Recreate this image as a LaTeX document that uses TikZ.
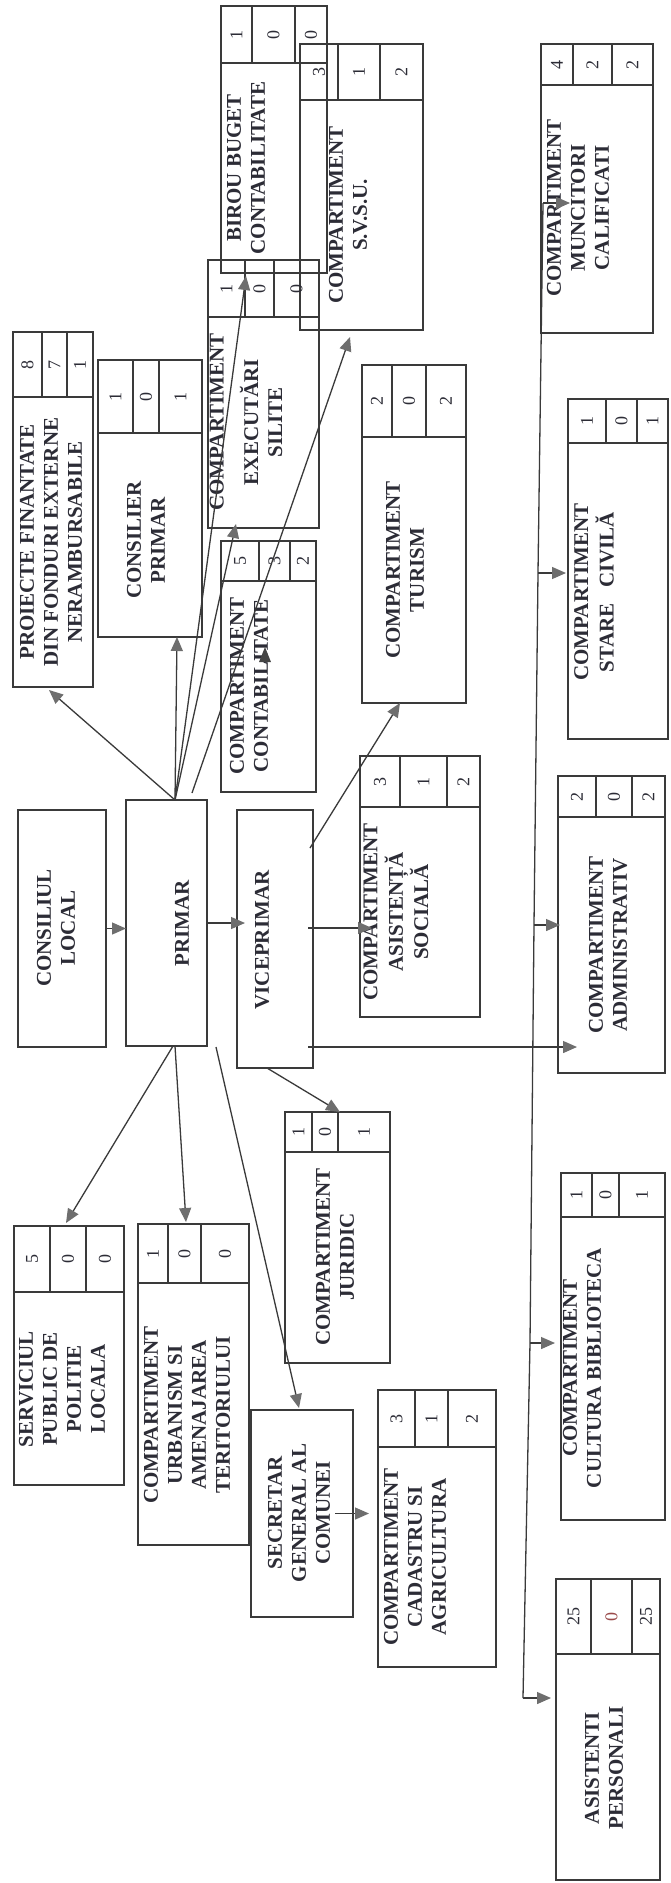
\documentclass[tikz,border=0pt]{standalone}
\usepackage{fontspec}
\setmainfont{Liberation Serif}
\usepackage{graphicx}
\usetikzlibrary{arrows.meta,calc}
\definecolor{linec}{HTML}{3A3A3A}
\definecolor{tipc}{HTML}{6E6E6E}
\definecolor{textc}{HTML}{2C2C36}
\definecolor{zred}{HTML}{9A4A4A}
\tikzset{
  bline/.style={draw=linec, line width=1.4pt},
  boxbody/.style={bline, rectangle, inner sep=0pt, outer sep=0pt},
  btxt/.style={inner sep=0pt, text=textc, font=\fontsize{21}{24}\selectfont\bfseries},
  ntxt/.style={inner sep=0pt, text=textc, font=\fontsize{18}{20}\selectfont},
  conn/.style={draw=linec, line width=1.3pt},
  arr/.style={conn, -{Triangle[length=14pt,width=12pt,color=tipc]}}
}
\newcommand\bodybox[5]{\node[boxbody, minimum width={(#3-#2)*1pt}, minimum height={(#5-#4)*1pt}] (#1) at ({(#2+#3)/2},{(#4+#5)/2}) {};}
\newcommand\btext[4]{\node[btxt] (#1-t) at (#2,#3) {\rotatebox{90}{\begin{tabular}{@{}c@{}}#4\end{tabular}}};}
\newcommand\hdr[6]{\def\hnA{#4}\def\hnB{#5}\def\hnC{#6}\hdrx{#1}#2\relax#3\relax}
\def\hdrx#1#2,#3,#4,#5\relax#6,#7\relax{%
  \node[boxbody, minimum width={(#5-#2)*1pt}, minimum height={(#7-#6)*1pt}] (#1-h) at ({(#2+#5)/2},{(#6+#7)/2}) {};
  \draw[bline] (#3,#6) -- (#3,#7);
  \draw[bline] (#4,#6) -- (#4,#7);
  \node[ntxt] (#1-n1) at ({(#2+#3)/2},{(#6+#7)/2}) {\rotatebox{90}{\hnA}};
  \node[ntxt] (#1-n2) at ({(#3+#4)/2},{(#6+#7)/2}) {\rotatebox{90}{\hnB}};
  \node[ntxt] (#1-n3) at ({(#4+#5)/2},{(#6+#7)/2}) {\rotatebox{90}{\hnC}};
}
\begin{document}
\begin{tikzpicture}[x=1pt,y=-1pt]
\useasboundingbox[fill=white] (0,0) rectangle (670,1883);

% ---- boxes ----
\hdr{birou}{221,252,295,327}{6,63}{1}{0}{0}
\bodybox{birou}{221}{327}{63}{273}
\btext{birou}{248}{168}{BIROU BUGET\\CONTABILITATE}

\hdr{svsu}{300,338,380,423}{44,100}{3}{1}{2}
\bodybox{svsu}{300}{423}{100}{330}
\btext{svsu}{350}{215}{COMPARTIMENT\\S.V.S.U.}

\hdr{exec}{208,245,274,319}{260,317}{1}{0}{0}
\bodybox{exec}{208}{319}{317}{528}
\btext{exec}{248}{422}{COMPARTIMENT\\[9pt]EXECUTĂRI\\SILITE}

\hdr{contab}{221,259,290,316}{541,581}{5}{3}{2}
\bodybox{contab}{221}{316}{581}{792}
\btext{contab}{251}{686}{COMPARTIMENT\\CONTABILITATE}

\hdr{consil}{98,133,159,202}{360,433}{1}{0}{1}
\bodybox{consil}{98}{202}{433}{637}
\btext{consil}{148}{540}{CONSILIER\\PRIMAR}

\hdr{proiect}{13,42,67,93}{332,397}{8}{7}{1}
\bodybox{proiect}{13}{93}{397}{687}
\btext{proiect}{53}{542}{PROIECTE FINANTATE\\DIN FONDURI EXTERNE\\NERAMBURSABILE}

\hdr{turism}{362,392,426,466}{365,437}{2}{0}{2}
\bodybox{turism}{362}{466}{437}{703}
\btext{turism}{407}{570}{COMPARTIMENT\\TURISM}

\hdr{stare}{568,606,637,668}{399,443}{1}{0}{1}
\bodybox{stare}{568}{668}{443}{739}
\btext{stare}{596}{592}{COMPARTIMENT\\STARE~~~CIVILĂ}

\hdr{munc}{541,573,612,653}{44,85}{4}{2}{2}
\bodybox{munc}{541}{653}{85}{333}
\btext{munc}{580}{208}{COMPARTIMENT\\MUNCITORI\\CALIFICATI}

\bodybox{consl}{18}{106}{810}{1047}
\btext{consl}{58}{928}{CONSILIUL\\LOCAL}

\bodybox{primar}{126}{207}{800}{1046}
\btext{primar}{184}{923}{PRIMAR}

\bodybox{vice}{237}{313}{810}{1068}
\btext{vice}{264}{940}{VICEPRIMAR}

\hdr{asist}{360,400,447,480}{756,807}{3}{1}{2}
\bodybox{asist}{360}{480}{807}{1017}
\btext{asist}{398}{912}{COMPARTIMENT\\ASISTENȚĂ\\SOCIALĂ}

\hdr{admin}{558,596,632,665}{776,817}{2}{0}{2}
\bodybox{admin}{558}{665}{817}{1073}
\btext{admin}{610}{945}{COMPARTIMENT\\ADMINISTRATIV}

\hdr{serv}{14,50,86,124}{1226,1292}{5}{0}{0}
\bodybox{serv}{14}{124}{1292}{1485}
\btext{serv}{64}{1389}{SERVICIUL\\PUBLIC DE\\POLITIE\\LOCALA}

\hdr{urb}{138,168,201,249}{1224,1283}{1}{0}{0}
\bodybox{urb}{138}{249}{1283}{1545}
\btext{urb}{189}{1415}{COMPARTIMENT\\URBANISM SI\\AMENAJAREA\\TERITORIULUI}

\hdr{jur}{285,312,338,390}{1112,1152}{1}{0}{1}
\bodybox{jur}{285}{390}{1152}{1363}
\btext{jur}{337}{1257}{COMPARTIMENT\\JURIDIC}

\hdr{cult}{561,592,619,665}{1173,1217}{1}{0}{1}
\bodybox{cult}{561}{665}{1217}{1520}
\btext{cult}{584}{1368}{COMPARTIMENT\\CULTURA BIBLIOTECA}

\bodybox{secr}{251}{353}{1410}{1617}
\btext{secr}{301}{1513}{SECRETAR\\GENERAL AL\\COMUNEI}

\hdr{cad}{378,415,448,496}{1390,1447}{3}{1}{2}
\bodybox{cad}{378}{496}{1447}{1667}
\btext{cad}{417}{1557}{COMPARTIMENT\\CADASTRU SI\\AGRICULTURA}

\hdr{aspers}{556,591,632,660}{1579,1654}{25}{{\color{zred}0}}{25}
\bodybox{aspers}{556}{660}{1654}{1880}
\btext{aspers}{606}{1768}{ASISTENTI\\PERSONALI}

% ---- connectors ----
\draw[arr] (consl.east) -- (consl.east -| primar.west);
\draw[arr] (primar.east) -- ($(vice.west)+(8,-16)$);
\draw[arr] ($(vice.east)+(-5,-11)$) -- ($(asist.west)+(12,16)$);
\draw[arr] ($(vice.east)+(-5,108)$) -- ($(admin.west)+(19,102)$);
\draw[arr] ($(vice.east)+(-3,-91)$) -- ($(turism.south)+(-14,0)$);
\draw[arr] ($(vice.south)+(-8,0)$) -- ($(jur-h.north)+(2.5,0)$);

\draw[arr] ($(primar.north)+(8.5,0)$) -- ($(proiect.south)+(-4,3)$);
\draw[arr] ($(primar.north)+(8.5,0)$) -- ($(consil.south)+(27,0)$);
\draw[arr] ($(primar.north)+(8.5,0)$) -- ($(exec.south)+(-27.5,-4)$);
\draw[arr] ($(primar.north)+(8.5,0)$) -- ($(birou.south)+(-28,3)$);
\draw[arr] ($(primar.north)+(25.5,-7)$) -- ($(svsu.south)+(-11.5,7)$);
\fill[linec!80!tipc] ($(contab-t)+(14,-39)$) -- ++(-6,15) -- ++(12,0) -- cycle;

\draw[arr] ($(primar.south)+(6.5,0)$) -- ($(serv-h.north)+(-3,-3)$);
\draw[arr] ($(primar.south)+(8.5,0)$) -- ($(urb-h.north)+(-7.5,-2)$);
\draw[arr] ($(primar.south east)+(9,1)$) -- ($(secr.north)+(-3,-2)$);
\draw[arr] ($(secr.east)+(-18,0)$) -- ($(cad.west)+(-9,-43.5)$);

% ---- bus line ----
\coordinate (bus1) at (543,203);
\coordinate (bus2) at (538,573);
\coordinate (bus3) at (534,925);
\coordinate (bus4) at (530,1343);
\coordinate (bus5) at (523,1698);
\draw[conn] (bus1) -- (bus2) -- (bus3) -- (bus4) -- (bus5);
\draw[arr] (bus1) -- ($(munc.west)+(29,-6)$);
\draw[arr] (bus2) -- ($(stare.west)+(-2,-18)$);
\draw[arr] (bus3) -- ($(admin.west)+(2,-20)$);
\draw[arr] (bus4) -- ($(cult.west)+(-6,-25.5)$);
\draw[arr] (bus5) -- ($(aspers.west)+(-5,-69)$);
\end{tikzpicture}
\end{document}
